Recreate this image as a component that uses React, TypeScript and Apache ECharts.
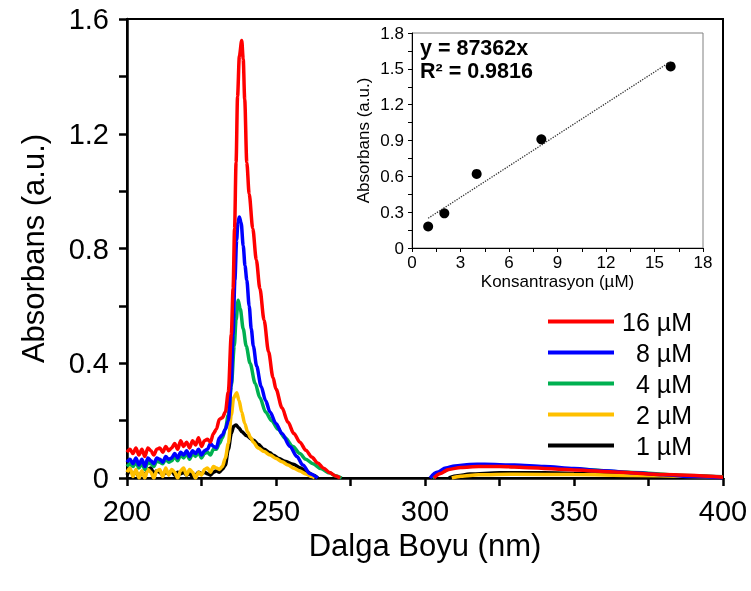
import React, { useEffect, useRef } from "react";
import * as echarts from "echarts";

const FONT = "'Liberation Sans', Arial, Helvetica, sans-serif";

// ---- main chart axes (tick labels) ----
const mainXTicks = [200, 250, 300, 350, 400];
const mainYTicks = [0, 0.4, 0.8, 1.2, 1.6];
// ---- inset axes ----
const insetXTicks = [0, 3, 6, 9, 12, 15, 18];
const insetYTicks = [0, 0.3, 0.6, 0.9, 1.2, 1.5, 1.8];

const legendNames = ["16 µM", "8 µM", "4 µM", "2 µM", "1 µM"];
const colors: Record<string, string> = {
  "16 µM": "#FF0000",
  "8 µM": "#0000FF",
  "4 µM": "#00B050",
  "2 µM": "#FFC000",
  "1 µM": "#000000",
};

// ---- spectra: [wavelength nm, absorbance] ----
const uv16: [number, number][] = [
  [200, 0.09], [201, 0.1], [202, 0.085], [203, 0.105], [204, 0.08], [205, 0.1], [206, 0.075], [207, 0.105],
  [208, 0.095], [209, 0.08], [210, 0.1], [211, 0.105], [212, 0.09], [213, 0.11], [214, 0.095], [215, 0.105],
  [216, 0.12], [217, 0.1], [218, 0.13], [219, 0.11], [220, 0.125], [221, 0.105], [222, 0.13], [223, 0.115],
  [224, 0.14], [225, 0.11], [226, 0.13], [227, 0.135], [228, 0.125], [229, 0.155], [230, 0.17], [231, 0.205],
  [232, 0.21], [233, 0.23], [234, 0.3], [235, 0.5], [235.6, 0.66], [236.1, 0.87], [236.6, 1.1], [237.1, 1.33],
  [237.7, 1.47], [238.5, 1.525], [239, 1.46], [239.5, 1.32], [240.2, 1.1], [241, 0.99], [242.2, 0.87],
  [243.4, 0.76], [244.6, 0.66], [246, 0.55], [247.5, 0.44], [249, 0.35], [250, 0.31], [252, 0.245],
  [254, 0.195], [256, 0.155], [258, 0.125], [260, 0.097], [262, 0.073], [264, 0.052], [266, 0.034],
  [268, 0.019], [270, 0.007], [271.5, 0],
];
const vis16: [number, number][] = [
  [303, 0], [305, 0.015], [308, 0.03], [312, 0.037], [318, 0.04], [325, 0.04], [335, 0.036], [350, 0.028],
  [365, 0.02], [380, 0.012], [400, 0.003],
];

const uv8: [number, number][] = [
  [200, 0.055], [201, 0.065], [202, 0.05], [203, 0.07], [204, 0.045], [205, 0.065], [206, 0.04], [207, 0.07],
  [208, 0.06], [209, 0.05], [210, 0.07], [211, 0.065], [212, 0.055], [213, 0.075], [214, 0.065], [215, 0.07],
  [216, 0.085], [217, 0.07], [218, 0.09], [219, 0.08], [220, 0.095], [221, 0.075], [222, 0.095], [223, 0.085],
  [224, 0.1], [225, 0.08], [226, 0.095], [227, 0.1], [228, 0.12], [229, 0.11], [230, 0.105], [231, 0.14],
  [232, 0.15], [233, 0.17], [234, 0.2], [235, 0.33], [235.6, 0.5], [236.2, 0.69], [236.8, 0.83], [237.2, 0.89],
  [237.7, 0.91], [238.3, 0.89], [239, 0.81], [239.6, 0.74], [240.2, 0.69], [241, 0.6], [241.7, 0.52],
  [242.4, 0.46], [243.5, 0.39], [245, 0.32], [246.5, 0.27], [248, 0.23], [250, 0.19], [252, 0.155],
  [254.7, 0.11], [257, 0.075], [259, 0.045], [261.4, 0.015], [264, 0],
];
const vis8: [number, number][] = [
  [301.7, 0], [304, 0.02], [307, 0.035], [310, 0.042], [315, 0.047], [320, 0.048], [330, 0.045],
  [340, 0.04], [350, 0.033], [360, 0.025], [370, 0.018], [380, 0.011], [390, 0.005], [400, 0.001],
];

const uv4: [number, number][] = [
  [200, 0.04], [201, 0.05], [202, 0.04], [203, 0.055], [204, 0.035], [205, 0.05], [206, 0.03], [207, 0.055],
  [208, 0.05], [209, 0.04], [210, 0.06], [211, 0.055], [212, 0.05], [213, 0.065], [214, 0.055], [215, 0.06],
  [216, 0.075], [217, 0.06], [218, 0.08], [219, 0.07], [220, 0.085], [221, 0.065], [222, 0.085], [223, 0.075],
  [224, 0.09], [225, 0.07], [226, 0.085], [227, 0.09], [228, 0.08], [229, 0.1], [230, 0.1], [231, 0.12],
  [232, 0.14], [233, 0.17], [234, 0.22], [235, 0.32], [236, 0.46], [236.6, 0.55], [237.3, 0.62], [238, 0.59],
  [239, 0.52], [240, 0.46], [241.3, 0.4], [243, 0.33], [244.6, 0.28], [246.5, 0.23], [248.5, 0.2],
  [250.7, 0.17], [253, 0.14], [255.7, 0.11], [258, 0.085], [260, 0.065], [262.4, 0.05], [265, 0.033],
  [268, 0.017], [270, 0.008], [272, 0],
];
const vis4: [number, number][] = [
  [302.5, 0], [305, 0.02], [310, 0.038], [320, 0.044], [335, 0.039], [350, 0.031], [370, 0.019],
  [385, 0.01], [400, 0.003],
];

const uv2: [number, number][] = [
  [200, 0.02], [201, 0.035], [202, 0.005], [203, 0.03], [204, 0], [205, 0.025], [206, 0], [207, 0.03],
  [208, 0.02], [209, 0], [210, 0.025], [211, 0.03], [212, 0.005], [213, 0.035], [214, 0.01], [215, 0.03],
  [216, 0.02], [217, 0], [218, 0.025], [219, 0.035], [220, 0.01], [221, 0.03], [222, 0.02], [223, 0],
  [224, 0.02], [225, 0.01], [226, 0.03], [227, 0.035], [228, 0.02], [229, 0.04], [230, 0.035], [231, 0.03],
  [232, 0.04], [233, 0.07], [234, 0.12], [235, 0.22], [235.8, 0.28], [236.8, 0.297], [237.6, 0.27],
  [238.5, 0.23], [239.5, 0.19], [240.5, 0.16], [241.5, 0.14], [242.4, 0.125], [244, 0.105], [246, 0.092],
  [248, 0.08], [250, 0.068], [252, 0.057], [254, 0.045], [256, 0.034], [258, 0.024], [260, 0.014],
  [262, 0.005], [263, 0],
];
const vis2: [number, number][] = [
  [309, 0], [312, 0.006], [318, 0.011], [330, 0.013], [350, 0.012], [370, 0.009], [400, 0.003],
];

const uv1: [number, number][] = [
  [200, 0.01], [201, 0.025], [202, 0.015], [203, 0.02], [204, 0.005], [205, 0.02], [206, 0.01], [207, 0.03],
  [208, 0.035], [209, 0.015], [210, 0.025], [211, 0.02], [212, 0.01], [213, 0.02], [214, 0.015], [215, 0.025],
  [216, 0.01], [217, 0.02], [218, 0.015], [219, 0.02], [220, 0.01], [221, 0.015], [222, 0.005], [223, 0.01],
  [224, 0.02], [225, 0.015], [226, 0.02], [227, 0.015], [228, 0.01], [229, 0.02], [230, 0.025], [231, 0.02],
  [232, 0.03], [233, 0.045], [234, 0.1], [235, 0.155], [235.8, 0.18], [236.6, 0.185], [237.5, 0.175],
  [238.5, 0.162], [240, 0.148], [242.4, 0.132], [244, 0.118], [246, 0.1], [248, 0.088], [249.1, 0.079],
  [251, 0.068], [253, 0.058], [255.8, 0.048], [258, 0.036], [260, 0.024], [262.5, 0.01], [264, 0],
];
const vis1: [number, number][] = [
  [308, 0], [311, 0.008], [315, 0.014], [325, 0.018], [340, 0.018], [360, 0.014], [380, 0.009], [400, 0.004],
];

// ---- inset calibration data ----
const concentrations = [1, 2, 4, 8, 16];
const peakAbsorbance = [0.18, 0.29, 0.62, 0.91, 1.52];
const equationLines = ["y = 87362x", "R² = 0.9816"];

function linearFit(xs: number[], ys: number[]) {
  const n = xs.length;
  const mx = xs.reduce((a, b) => a + b, 0) / n;
  const my = ys.reduce((a, b) => a + b, 0) / n;
  let sxy = 0;
  let sxx = 0;
  for (let i = 0; i < n; i++) {
    sxy += (xs[i] - mx) * (ys[i] - my);
    sxx += (xs[i] - mx) * (xs[i] - mx);
  }
  const slope = sxy / sxx;
  return { slope, intercept: my - slope * mx };
}

const spectra: { name: string; uv: [number, number][]; vis: [number, number][] }[] = [
  { name: "1 µM", uv: uv1, vis: vis1 },
  { name: "2 µM", uv: uv2, vis: vis2 },
  { name: "4 µM", uv: uv4, vis: vis4 },
  { name: "8 µM", uv: uv8, vis: vis8 },
  { name: "16 µM", uv: uv16, vis: vis16 },
];

export default function App() {
  const ref = useRef<HTMLDivElement>(null);
  useEffect(() => {
    if (!ref.current) return;
    const chart = echarts.init(ref.current, undefined, { renderer: "svg" });
    const fit = linearFit(concentrations, peakAbsorbance);
    const xFirst = concentrations[0];
    const xLast = concentrations[concentrations.length - 1];
    const fitLine = [
      [xFirst, fit.intercept + fit.slope * xFirst],
      [xLast, fit.intercept + fit.slope * xLast],
    ];
    const black = "#000";
    const mainTickStyle = { color: black, width: 2.5 };
    const insetTickStyle = { color: black, width: 1 };

    chart.setOption({
      animation: false,
      textStyle: { fontFamily: FONT },
      grid: [
        { left: 127, right: 28, top: 19, bottom: 113, show: true, borderColor: black, borderWidth: 2 },
        { left: 412, top: 33, width: 291, height: 215, show: true, borderColor: "#808080", borderWidth: 1 },
      ],
      xAxis: [
        {
          type: "value",
          gridIndex: 0,
          min: mainXTicks[0],
          max: mainXTicks[mainXTicks.length - 1],
          interval: mainXTicks[1] - mainXTicks[0],
          axisLine: { lineStyle: mainTickStyle },
          axisTick: { length: 8, lineStyle: mainTickStyle },
          minorTick: { show: true, splitNumber: 2, length: 8, lineStyle: mainTickStyle },
          splitLine: { show: false },
          axisLabel: { fontSize: 29, color: black, margin: 18, fontFamily: FONT },
          name: "Dalga Boyu (nm)",
          nameLocation: "middle",
          nameGap: 50,
          nameTextStyle: { fontSize: 31, color: black, fontFamily: FONT },
        },
        {
          type: "value",
          gridIndex: 1,
          min: insetXTicks[0],
          max: insetXTicks[insetXTicks.length - 1],
          interval: insetXTicks[1] - insetXTicks[0],
          axisLine: { lineStyle: insetTickStyle },
          axisTick: { length: 4, lineStyle: insetTickStyle },
          minorTick: { show: true, splitNumber: 2, length: 4, lineStyle: insetTickStyle },
          splitLine: { show: false },
          axisLabel: { fontSize: 17, color: black, margin: 6, fontFamily: FONT },
          name: "Konsantrasyon (µM)",
          nameLocation: "middle",
          nameGap: 25,
          nameTextStyle: { fontSize: 17, color: black, fontFamily: FONT },
        },
      ],
      yAxis: [
        {
          type: "value",
          gridIndex: 0,
          min: mainYTicks[0],
          max: mainYTicks[mainYTicks.length - 1],
          interval: mainYTicks[1] - mainYTicks[0],
          axisLine: { lineStyle: mainTickStyle },
          axisTick: { length: 8, lineStyle: mainTickStyle },
          minorTick: { show: true, splitNumber: 2, length: 8, lineStyle: mainTickStyle },
          splitLine: { show: false },
          axisLabel: { fontSize: 29, color: black, margin: 18, fontFamily: FONT },
          name: "Absorbans (a.u.)",
          nameLocation: "middle",
          nameGap: 78,
          nameTextStyle: { fontSize: 31, color: black, fontFamily: FONT },
        },
        {
          type: "value",
          gridIndex: 1,
          min: insetYTicks[0],
          max: insetYTicks[insetYTicks.length - 1],
          interval: insetYTicks[1] - insetYTicks[0],
          axisLine: { lineStyle: insetTickStyle },
          axisTick: { length: 4, lineStyle: insetTickStyle },
          minorTick: { show: true, splitNumber: 2, length: 4, lineStyle: insetTickStyle },
          splitLine: { show: false },
          axisLabel: { fontSize: 17, color: black, margin: 8, fontFamily: FONT },
          name: "Absorbans (a.u.)",
          nameLocation: "middle",
          nameGap: 40,
          nameTextStyle: { fontSize: 17, color: black, fontFamily: FONT },
        },
      ],
      legend: {
        orient: "vertical",
        left: 543,
        top: 304,
        itemWidth: 66,
        itemHeight: 4,
        itemGap: 6,
        icon: "rect",
        selectedMode: false,
        data: legendNames,
        formatter: "{a|{name}}",
        textStyle: {
          rich: { a: { width: 73, align: "right", fontSize: 25, color: black, fontFamily: FONT } },
        },
      },
      graphic: equationLines.map((t, i) => ({
        type: "text",
        left: 420,
        top: 37 + i * 23,
        style: { text: t, fontSize: 21.5, fontWeight: "bold", fontFamily: FONT, fill: black },
      })),
      series: [
        ...spectra.map((s) => ({
          name: s.name,
          type: "line",
          xAxisIndex: 0,
          yAxisIndex: 0,
          showSymbol: false,
          smooth: 0.3,
          smoothMonotone: "x",
          clip: true,
          color: colors[s.name],
          lineStyle: { width: 3.5, color: colors[s.name] },
          data: [...s.uv, [(s.uv[s.uv.length - 1][0] + s.vis[0][0]) / 2, "-"], ...s.vis],
        })),
        {
          name: "fit",
          type: "line",
          xAxisIndex: 1,
          yAxisIndex: 1,
          showSymbol: false,
          lineStyle: { type: "dotted", width: 1.3, color: "#333" },
          data: fitLine,
        },
        {
          name: "points",
          type: "scatter",
          xAxisIndex: 1,
          yAxisIndex: 1,
          symbolSize: 10,
          itemStyle: { color: black, opacity: 1 },
          data: concentrations.map((c, i) => [c, peakAbsorbance[i]]),
        },
      ],
    });
    return () => chart.dispose();
  }, []);
  return <div ref={ref} style={{ position: "fixed", left: 0, top: 0, width: 751, height: 591 }} />;
}
